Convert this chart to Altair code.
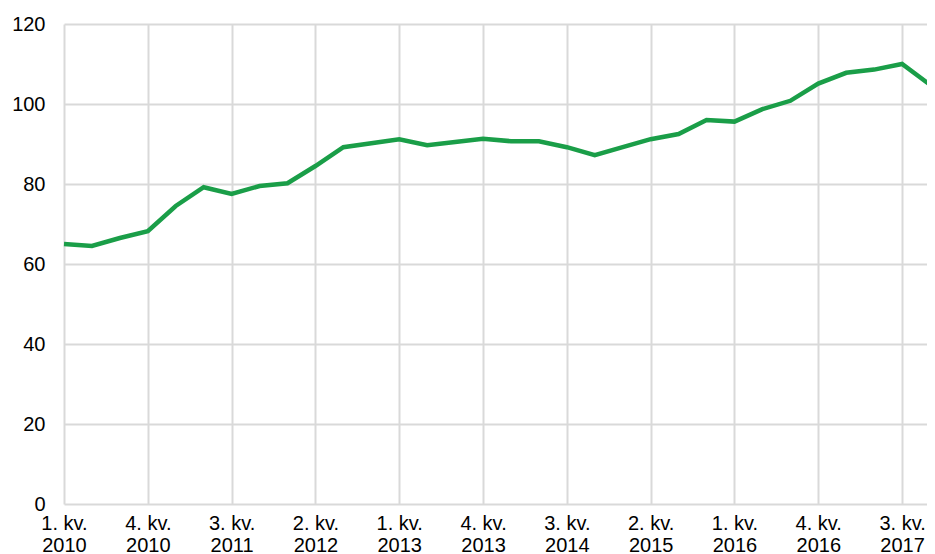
import altair as alt
import pandas as pd

quarters = ["1. kv.", "2. kv.", "3. kv.", "4. kv."]
years = list(range(2010, 2018))
values = [65.0, 64.5, 66.5, 68.2, 74.5, 79.2, 77.5, 79.5,
          80.2, 84.5, 89.2, 90.2, 91.2, 89.7, 90.5, 91.3,
          90.7, 90.7, 89.2, 87.2, 89.2, 91.2, 92.5, 96.0,
          95.6, 98.7, 100.8, 105.1, 107.8, 108.6, 110.0, 104.8]

labels = [f"{q}\n{y}" for y in years for q in quarters]
df = pd.DataFrame({"i": list(range(len(values))), "v": values, "lab": labels})

tick_vals = list(range(0, 32, 3))
label_map = {i: labels[i] for i in tick_vals}
expr = "split(" + " : ".join(
    [f"datum.value == {i} ? '{label_map[i].replace(chr(10), '|')}'" for i in tick_vals]
) + " : '', '|')"

chart = alt.Chart(df).mark_line(color="#1a9e48", strokeWidth=4.5, clip=False).encode(
    x=alt.X("i:Q", scale=alt.Scale(domain=[0, 31], range=[0, 866], nice=False, zero=False),
            axis=alt.Axis(values=tick_vals, labelExpr=expr, title=None,
                          grid=True, gridColor="#d9d9d9", gridWidth=2,
                          domain=False, ticks=False, labelPadding=9,
                          labelBaseline="top", labelLineHeight=22,
                          labelFontSize=20, labelColor="#000000",
                          labelFont="Liberation Sans", labelAngle=0,
                          labelOverlap=False, labelFlush=False)),
    y=alt.Y("v:Q", scale=alt.Scale(domain=[0, 120], nice=False),
            axis=alt.Axis(values=[0, 20, 40, 60, 80, 100, 120], title=None,
                          grid=True, gridColor="#d9d9d9", gridWidth=2,
                          domain=False, ticks=False, labelPadding=19,
                          labelFontSize=20, labelColor="#000000",
                          labelFont="Liberation Sans", labelFlush=False)),
).properties(
    width=863, height=480,
    autosize=alt.AutoSizeParams(type="none"),
    padding={"left": 56, "top": 16, "right": 0, "bottom": 50},
).configure_view(stroke=None)

chart.save("out.html", embed_options={"renderer": "svg", "actions": False})
